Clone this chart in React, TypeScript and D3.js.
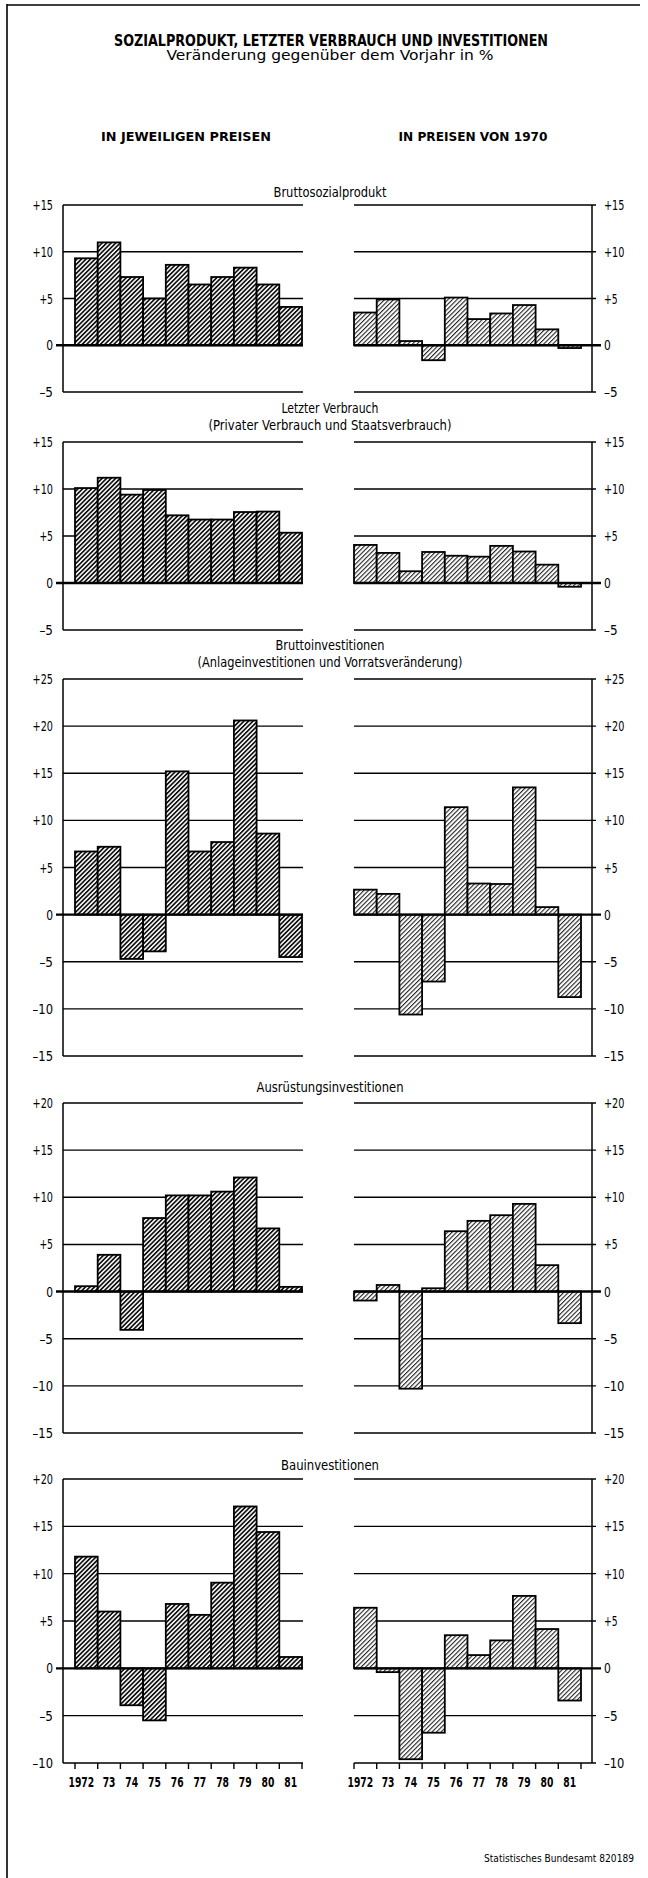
import React, { useEffect } from "react";
import * as d3 from "d3";

// ---------- data ----------
const YEARS = ["1972", "73", "74", "75", "76", "77", "78", "79", "80", "81"];

const bspCurrent = [9.3, 11.0, 7.3, 5.0, 8.6, 6.5, 7.3, 8.3, 6.5, 4.1];
const bspConst = [3.5, 4.9, 0.45, -1.6, 5.1, 2.8, 3.4, 4.3, 1.7, -0.3];

const verbrauchCurrent = [10.1, 11.2, 9.4, 9.9, 7.2, 6.75, 6.75, 7.55, 7.6, 5.35];
const verbrauchConst = [4.05, 3.2, 1.25, 3.3, 2.9, 2.8, 3.95, 3.35, 1.95, -0.4];

const bruttoInvCurrent = [6.7, 7.2, -4.7, -3.9, 15.2, 6.7, 7.7, 20.6, 8.6, -4.5];
const bruttoInvConst = [2.65, 2.2, -10.6, -7.1, 11.4, 3.3, 3.25, 13.5, 0.8, -8.75];

const ausrCurrent = [0.57, 3.9, -4.06, 7.8, 10.2, 10.2, 10.6, 12.1, 6.7, 0.5];
const ausrConst = [-0.95, 0.7, -10.3, 0.35, 6.4, 7.5, 8.1, 9.3, 2.8, -3.35];

const bauCurrent = [11.8, 6.0, -3.9, -5.5, 6.8, 5.65, 9.05, 17.1, 14.4, 1.2];
const bauConst = [6.4, -0.4, -9.6, -6.8, 3.5, 1.4, 2.95, 7.65, 4.15, -3.4];

const ticksA = [15, 10, 5, 0, -5];
const ticksB = [25, 20, 15, 10, 5, 0, -5, -10, -15];
const ticksC = [20, 15, 10, 5, 0, -5, -10, -15];
const ticksD = [20, 15, 10, 5, 0, -5, -10];

const TITLE = "SOZIALPRODUKT, LETZTER VERBRAUCH UND INVESTITIONEN";
const SUBTITLE = "Veränderung gegenüber dem Vorjahr in %";
const HEAD_LEFT = "IN JEWEILIGEN PREISEN";
const HEAD_RIGHT = "IN PREISEN VON 1970";
const FOOTER = "Statistisches Bundesamt 820189";

type Panel = {
  titles: { text: string; w: number }[];
  left: number[];
  right: number[];
  domain: [number, number];
  ticks: number[];
  top: number;
  bottom: number;
  titleY: number;
  years?: boolean;
};

const panels: Panel[] = [
  { titles: [{ text: "Bruttosozialprodukt", w: 113 }], left: bspCurrent, right: bspConst, domain: [-5, 15], ticks: ticksA, top: 205, bottom: 392, titleY: 197 },
  { titles: [{ text: "Letzter Verbrauch", w: 97 }, { text: "(Privater Verbrauch und Staatsverbrauch)", w: 243 }], left: verbrauchCurrent, right: verbrauchConst, domain: [-5, 15], ticks: ticksA, top: 442, bottom: 630, titleY: 413 },
  { titles: [{ text: "Bruttoinvestitionen", w: 109 }, { text: "(Anlageinvestitionen und Vorratsveränderung)", w: 265 }], left: bruttoInvCurrent, right: bruttoInvConst, domain: [-15, 25], ticks: ticksB, top: 679, bottom: 1056, titleY: 650 },
  { titles: [{ text: "Ausrüstungsinvestitionen", w: 147 }], left: ausrCurrent, right: ausrConst, domain: [-15, 20], ticks: ticksC, top: 1103, bottom: 1433, titleY: 1092 },
  { titles: [{ text: "Bauinvestitionen", w: 98 }], left: bauCurrent, right: bauConst, domain: [-10, 20], ticks: ticksD, top: 1479, bottom: 1763, titleY: 1470, years: true },
];

const FONT = "'Liberation Sans Narrow', 'DejaVu Sans Condensed', 'Liberation Sans', sans-serif";

// layout
const L_AXIS = 63, L_X0 = 75, L_X1 = 302, L_GRID_END = 303;
const R_X0 = 354, R_X1 = 581, R_AXIS = 592;

const fmt = (v: number) => (v > 0 ? `+${v}` : v < 0 ? `–${Math.abs(v)}` : "0");
const tickW = (s: string) => s.length * 6.8;
const yearW = (s: string) => s.length * 6.4;
const yearShift = (s: string) => (s.length > 2 ? -5 : 0);

function PanelView({ p }: { p: Panel }) {
  const y = d3.scaleLinear().domain(p.domain).range([p.bottom, p.top]);
  const xl = d3.scaleBand<string>().domain(YEARS).range([L_X0, L_X1]).padding(0);
  const xr = d3.scaleBand<string>().domain(YEARS).range([R_X0, R_X1]).padding(0);
  const y0 = y(0);
  const bars = (vals: number[], x: d3.ScaleBand<string>, fill: string) =>
    vals.map((v, i) => (
      <rect
        key={i}
        x={x(YEARS[i])!}
        y={Math.min(y(v), y0)}
        width={x.bandwidth()}
        height={Math.abs(y(v) - y0)}
        fill={fill}
        stroke="#000"
        strokeWidth={1.8}
      />
    ));
  const yearLabels = (x: d3.ScaleBand<string>, pre: string) =>
    YEARS.map((yr) => (
      <text key={pre + yr} x={x(yr)! + x.bandwidth() / 2 + yearShift(yr)} y={p.bottom + 24} textAnchor="middle" fontSize={14} fontWeight="bold" fontFamily={FONT} textLength={yearW(yr)} lengthAdjust="spacingAndGlyphs">{yr}</text>
    ));
  return (
    <g>
      {p.titles.map((t, i) => (
        <text key={i} x={330} y={p.titleY + i * 17} textAnchor="middle" fontSize={14} fontFamily={FONT} textLength={t.w} lengthAdjust="spacingAndGlyphs">
          {t.text}
        </text>
      ))}
      {/* gridlines and tick labels */}
      {p.ticks.map((t) => (
        <g key={t}>
          {t !== 0 && <line x1={L_AXIS} x2={L_GRID_END} y1={y(t)} y2={y(t)} stroke="#000" strokeWidth={1.4} />}
          {t !== 0 && <line x1={R_X0} x2={R_AXIS + 4} y1={y(t)} y2={y(t)} stroke="#000" strokeWidth={1.4} />}
          <text x={53} y={y(t) + 5} textAnchor="end" fontSize={14} fontFamily={FONT} textLength={tickW(fmt(t))} lengthAdjust="spacingAndGlyphs">{fmt(t)}</text>
          <text x={604} y={y(t) + 5} textAnchor="start" fontSize={14} fontFamily={FONT} textLength={tickW(fmt(t))} lengthAdjust="spacingAndGlyphs">{fmt(t)}</text>
        </g>
      ))}
      {/* axes */}
      <line x1={L_AXIS} x2={L_AXIS} y1={p.top} y2={p.bottom} stroke="#000" strokeWidth={1.5} />
      <line x1={R_AXIS} x2={R_AXIS} y1={p.top} y2={p.bottom} stroke="#000" strokeWidth={1.5} />
      {bars(p.left, xl, "url(#hatchDark)")}
      {bars(p.right, xr, "url(#hatchLight)")}
      {/* zero lines */}
      <line x1={56} x2={L_GRID_END} y1={y0} y2={y0} stroke="#000" strokeWidth={2.4} />
      <line x1={R_X0} x2={601} y1={y0} y2={y0} stroke="#000" strokeWidth={2.4} />
      {p.years && (
        <g>
          {[...YEARS.map((yr) => xl(yr)!), L_X1].map((x, i) => (
            <line key={"lt" + i} x1={x} x2={x} y1={p.bottom} y2={p.bottom + 6} stroke="#000" strokeWidth={1.4} />
          ))}
          {[...YEARS.map((yr) => xr(yr)!), R_X1].map((x, i) => (
            <line key={"rt" + i} x1={x} x2={x} y1={p.bottom} y2={p.bottom + 6} stroke="#000" strokeWidth={1.4} />
          ))}
          {yearLabels(xl, "ly")}
          {yearLabels(xr, "ry")}
        </g>
      )}
    </g>
  );
}

export default function App() {
  useEffect(() => {
    document.body.style.margin = "0";
  }, []);
  return (
    <svg width={648} height={1878} viewBox="0 0 648 1878" style={{ display: "block", background: "#fff" }}>
      <defs>
        <pattern id="hatchDark" width={3.2} height={3.2} patternUnits="userSpaceOnUse" patternTransform="rotate(45)">
          <rect width={3.2} height={3.2} fill="#fff" />
          <rect width={1.7} height={3.2} fill="#111" />
        </pattern>
        <pattern id="hatchLight" width={3.2} height={3.2} patternUnits="userSpaceOnUse" patternTransform="rotate(45)">
          <rect width={3.2} height={3.2} fill="#fff" />
          <rect width={1.1} height={3.2} fill="#222" />
        </pattern>
      </defs>
      <rect width={648} height={1878} fill="#fff" />
      {/* frame */}
      <line x1={7} x2={7} y1={4} y2={1878} stroke="#000" strokeWidth={1.6} />
      <line x1={7} x2={640} y1={5} y2={5} stroke="#000" strokeWidth={1.6} />

      <text x={331} y={46} textAnchor="middle" fontSize={15} fontWeight="bold" fontFamily={FONT} textLength={434} lengthAdjust="spacingAndGlyphs">{TITLE}</text>
      <text x={330} y={60} textAnchor="middle" fontSize={14} fontFamily={FONT} textLength={327} lengthAdjust="spacingAndGlyphs">{SUBTITLE}</text>
      <text x={186} y={141} textAnchor="middle" fontSize={13} fontWeight="bold" fontFamily={FONT} textLength={170} lengthAdjust="spacingAndGlyphs">{HEAD_LEFT}</text>
      <text x={473} y={141} textAnchor="middle" fontSize={13} fontWeight="bold" fontFamily={FONT} textLength={149} lengthAdjust="spacingAndGlyphs">{HEAD_RIGHT}</text>

      {panels.map((p, i) => (
        <PanelView key={i} p={p} />
      ))}

      <text x={484} y={1862} textAnchor="start" fontSize={11} fontFamily={FONT} textLength={150} lengthAdjust="spacingAndGlyphs">{FOOTER}</text>
    </svg>
  );
}
